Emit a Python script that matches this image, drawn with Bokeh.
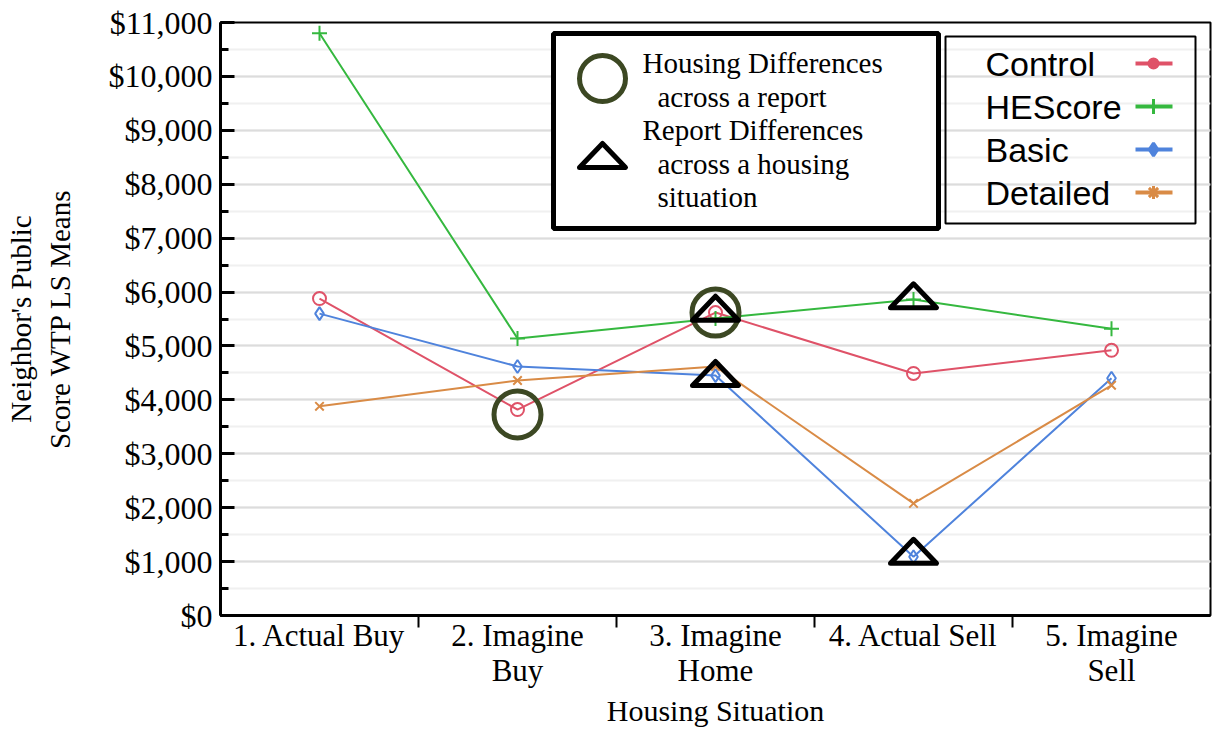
from bokeh.plotting import figure
from bokeh.models import Range1d, FixedTicker, SingleIntervalTicker, NumeralTickFormatter
from bokeh.embed import file_html
from bokeh.resources import INLINE
from bokeh.core.properties import value

# ---------------- data ----------------
categories = ["1. Actual Buy", "2. Imagine\nBuy", "3. Imagine\nHome", "4. Actual Sell", "5. Imagine\nSell"]
series_names = ["Control", "HEScore", "Basic", "Detailed"]
control = [5880, 3820, 5620, 4490, 4920]
hescore = [10800, 5140, 5510, 5860, 5320]
basic = [5600, 4620, 4450, 1090, 4400]
detailed = [3880, 4360, 4620, 2080, 4270]

# significance annotations (category, value)
housing_diff_cat = ["2. Imagine\nBuy", "3. Imagine\nHome"]
housing_diff_val = [3730, 5620]
report_diff_cat = ["3. Imagine\nHome", "3. Imagine\nHome", "4. Actual Sell", "4. Actual Sell"]
report_diff_val = [5700, 4490, 5930, 1190]

y_ticks_interval = 1000

# ---------------- styles / layout ----------------
colors = ["#df5268", "#35b83f", "#4f83dc", "#d98b46"]
markers = ["circle", "cross", "diamond", "x"]
msizes = [13, 15, 13, 12]
OLIVE = "#3c4823"
SERIF = "Liberation Serif"
SANS = "Liberation Sans"

W, H = 1213, 730
BL, BR, BT, BB = 220, 3, 22, 115
FX0, FX1 = BL, W - BR
FY0, FY1 = BT, H - BB
XMIN, XMAX, YMIN, YMAX = 0.5, 5.5, 0, 11000


def dx(px):
    return XMIN + (px - FX0) * (XMAX - XMIN) / (FX1 - FX0)


def dy(py):
    return YMIN + (FY1 - py) * (YMAX - YMIN) / (FY1 - FY0)


def ddx(px):
    return px * (XMAX - XMIN) / (FX1 - FX0)


def ddy(py):
    return py * (YMAX - YMIN) / (FY1 - FY0)


p = figure(width=W, height=H, x_range=Range1d(XMIN, XMAX), y_range=Range1d(YMIN, YMAX),
           output_backend="svg", toolbar_location=None,
           min_border_left=BL, min_border_right=BR, min_border_top=BT, min_border_bottom=BB)
p.outline_line_color = "black"
p.outline_line_width = 2
p.background_fill_color = "white"

# y axis
yt = SingleIntervalTicker(interval=y_ticks_interval, num_minor_ticks=2)
p.yaxis.ticker = yt
p.ygrid.ticker = yt
p.yaxis.formatter = NumeralTickFormatter(format="$0,0")
p.yaxis.axis_line_width = 3
p.yaxis.major_tick_in = 14
p.yaxis.major_tick_out = 0
p.yaxis.minor_tick_in = 8
p.yaxis.minor_tick_out = 0
p.yaxis.major_tick_line_width = 3
p.yaxis.minor_tick_line_width = 3
p.yaxis.major_label_text_font = SERIF
p.yaxis.major_label_text_font_size = "32px"
p.yaxis.major_label_text_color = "black"
p.yaxis.major_label_standoff = 8
p.yaxis.axis_label = "Neighbor's Public\nScore WTP LS Means"
p.yaxis.axis_label_text_font = SERIF
p.yaxis.axis_label_text_font_size = "29px"
p.yaxis.axis_label_text_font_style = "normal"
p.yaxis.axis_label_text_color = "black"
p.yaxis.axis_label_standoff = 30

p.ygrid.grid_line_color = "#dcdcdc"
p.ygrid.grid_line_width = 2
p.ygrid.minor_grid_line_color = "#f0f0f0"
p.ygrid.minor_grid_line_width = 2
p.xgrid.visible = False

# x axis
xpos = [i + 1 for i in range(len(categories))]
p.xaxis.ticker = FixedTicker(ticks=xpos, minor_ticks=[i + 0.5 for i in xpos[:-1]])
p.xaxis.major_label_overrides = {x: c for x, c in zip(xpos, categories)}
p.xaxis.axis_line_width = 3
p.xaxis.major_tick_in = 0
p.xaxis.major_tick_out = 0
p.xaxis.minor_tick_in = 0
p.xaxis.minor_tick_out = 12
p.xaxis.minor_tick_line_width = 2
p.xaxis.major_label_text_font = SERIF
p.xaxis.major_label_text_font_size = "31px"
p.xaxis.major_label_text_line_height = 1.0
p.xaxis.major_label_text_color = "black"
p.xaxis.major_label_standoff = -10
p.xaxis.axis_label = "Housing Situation"
p.xaxis.axis_label_text_font = SERIF
p.xaxis.axis_label_text_font_size = "30px"
p.xaxis.axis_label_text_font_style = "normal"
p.xaxis.axis_label_text_color = "black"
p.xaxis.axis_label_standoff = 3

# series
all_vals = [control, hescore, basic, detailed]
for vals, col, mk, ms in zip(all_vals, colors, markers, msizes):
    p.line(xpos, vals, line_color=col, line_width=2)
    p.scatter(xpos, vals, marker=mk, size=ms, line_color=col, fill_color=None, line_width=2)

# annotations: circles (housing differences)
hx = [categories.index(c) + 1 for c in housing_diff_cat]
p.scatter(hx, housing_diff_val, marker="circle", size=47, fill_color=None,
          line_color=OLIVE, line_width=5)

# triangles (report differences)
tw, th = 23, 24
rx = [categories.index(c) + 1 for c in report_diff_cat]
txs = [[x - ddx(tw), x, x + ddx(tw)] for x in rx]
tys = [[y - ddy(th / 2), y + ddy(th / 2), y - ddy(th / 2)] for y in report_diff_val]
p.patches(txs, tys, fill_color=None, line_color="black", line_width=5, line_join="round")

# ---------------- annotation key box (left) ----------------
p.quad(left=[dx(553)], right=[dx(938)], top=[dy(33)], bottom=[dy(228)],
       fill_color="white", line_color="black", line_width=5)
p.scatter([dx(602)], [dy(78)], marker="circle", size=46, fill_color=None,
          line_color=OLIVE, line_width=5)
kx = dx(602)
ky = dy(155)
p.patches([[kx - ddx(tw), kx, kx + ddx(tw)]],
          [[ky - ddy(th / 2), ky + ddy(th / 2), ky - ddy(th / 2)]],
          fill_color=None, line_color="black", line_width=5, line_join="round")
key_lines = ["Housing Differences", "across a report", "Report Differences", "across a housing", "situation"]
key_px = [642, 657, 642, 657, 657]
key_py = [62, 96, 129, 163, 196]
p.text(x=[dx(v) for v in key_px], y=[dy(v) for v in key_py], text=key_lines,
       text_font=value(SERIF), text_font_size="29px", text_color="black",
       text_baseline="middle", text_align="left")

# ---------------- series legend (right) ----------------
p.quad(left=[dx(945)], right=[dx(1195)], top=[dy(36)], bottom=[dy(223)],
       fill_color=None, line_color="black", line_width=2)
leg_rows = [63, 106, 149, 192]
p.text(x=[dx(985)] * 4, y=[dy(v) for v in leg_rows], text=series_names,
       text_font=value(SANS), text_font_size="34px", text_color="black",
       text_baseline="middle", text_align="left")
leg_markers = ["circle", "cross", "diamond", "asterisk"]
leg_msize = [9, 15, 13, 13]
for row, col, mk, ms in zip(leg_rows, colors, leg_markers, leg_msize):
    p.line([dx(1135), dx(1172)], [dy(row), dy(row)], line_color=col, line_width=4)
    p.scatter([dx(1153)], [dy(row)], marker=mk, size=ms, line_color=col,
              fill_color=col, line_width=3)

open("out.html", "w").write(file_html(p, INLINE))
